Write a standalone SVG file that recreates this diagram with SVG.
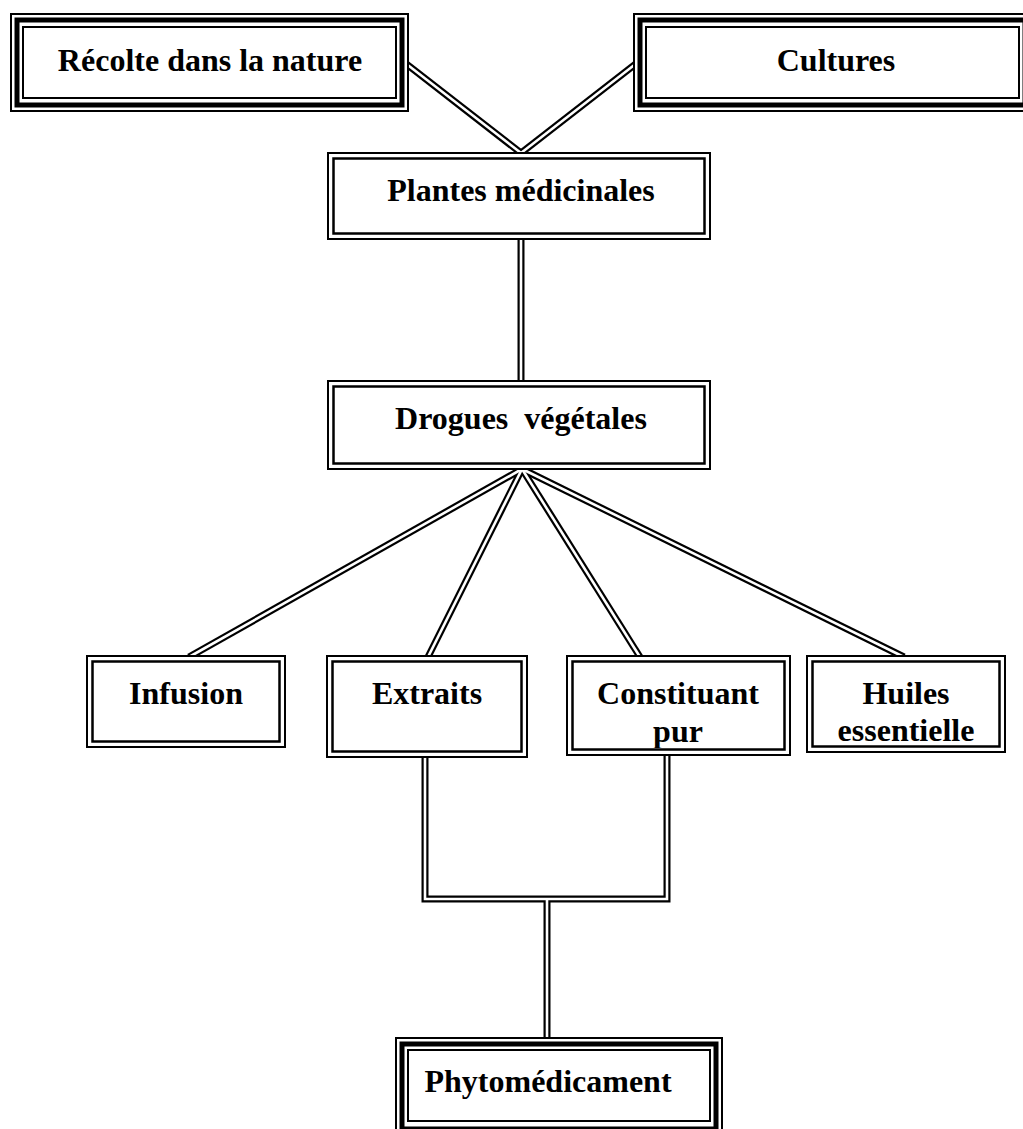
<svg xmlns="http://www.w3.org/2000/svg" xmlns:xlink="http://www.w3.org/1999/xlink" width="1023" height="1129" viewBox="0 0 1023 1129">
<style>
.o{fill:#fff;stroke:#000;stroke-width:2}
.t{fill:none;stroke:#000;stroke-width:5}
.i{fill:none;stroke:#000;stroke-width:2}
.d1{fill:#fff;stroke:#000;stroke-width:2}
.d2{fill:none;stroke:#000;stroke-width:2.5}
.cb{fill:none;stroke:#000;stroke-width:7}
.cw{fill:none;stroke:#fff;stroke-width:2.6}
text{font-family:"Liberation Serif","Times New Roman",serif;font-weight:bold;font-size:32px;text-anchor:middle;fill:#000}
</style>
<defs>
<path id="p1" d="M400,59 L521,153"/>
<path id="p2" d="M642,59 L521,153"/>
<path id="p3" d="M521,238 L521,382"/>
<path id="p4" d="M522,469 L189,657"/>
<path id="p5" d="M522,469 L428,657"/>
<path id="p6" d="M522,469 L640,657"/>
<path id="p7" d="M522,469 L904,657"/>
<path id="p8" d="M425,756 L425,899 L667,899 L667,756"/>
<path id="p9" d="M547,899 L547,1040"/>
<clipPath id="clipC"><rect x="573" y="660" width="212" height="88"/></clipPath>
</defs>
<g id="connectors">
<use xlink:href="#p1" class="cb"/><use xlink:href="#p2" class="cb"/><use xlink:href="#p3" class="cb"/>
<use xlink:href="#p4" class="cb"/><use xlink:href="#p5" class="cb"/><use xlink:href="#p6" class="cb"/>
<use xlink:href="#p7" class="cb"/><use xlink:href="#p8" class="cb"/><use xlink:href="#p9" class="cb"/>
<use xlink:href="#p1" class="cw"/><use xlink:href="#p2" class="cw"/><use xlink:href="#p3" class="cw"/>
<use xlink:href="#p4" class="cw"/><use xlink:href="#p5" class="cw"/><use xlink:href="#p6" class="cw"/>
<use xlink:href="#p7" class="cw"/><use xlink:href="#p8" class="cw"/><use xlink:href="#p9" class="cw"/>
</g>
<g id="recolte">
<rect class="o" x="11" y="14" width="397" height="97"/>
<rect class="t" x="17" y="20" width="385" height="85"/>
<rect class="i" x="23" y="27" width="373" height="71"/>
<text x="210" y="71">Récolte dans la nature</text>
</g>
<g id="cultures">
<rect class="o" x="634" y="14" width="397" height="97"/>
<rect class="t" x="640" y="20" width="385" height="85"/>
<rect class="i" x="646" y="27" width="373" height="71"/>
<text x="836" y="71">Cultures</text>
</g>
<g id="plantes">
<rect class="d1" x="328" y="153" width="382" height="86"/>
<rect class="d2" x="333.5" y="158.5" width="371" height="75"/>
<text x="521" y="201">Plantes médicinales</text>
</g>
<g id="drogues">
<rect class="d1" x="328" y="381" width="382" height="88"/>
<rect class="d2" x="333.5" y="386.5" width="371" height="77"/>
<text x="521" y="429" xml:space="preserve">Drogues  végétales</text>
</g>
<g id="infusion">
<rect class="d1" x="87" y="656" width="198" height="91"/>
<rect class="d2" x="92.5" y="661.5" width="187" height="80"/>
<text x="186" y="704">Infusion</text>
</g>
<g id="extraits">
<rect class="d1" x="327" y="656" width="200" height="101"/>
<rect class="d2" x="332.5" y="661.5" width="189" height="90"/>
<text x="427" y="704">Extraits</text>
</g>
<g id="constituant">
<rect class="d1" x="567" y="656" width="223" height="99"/>
<rect class="d2" x="572.5" y="661.5" width="212" height="88"/>
<text x="678" y="704">Constituant</text>
<text x="678" y="742" clip-path="url(#clipC)">pur</text>
</g>
<g id="huiles">
<rect class="d1" x="807" y="656" width="198" height="96"/>
<rect class="d2" x="812.5" y="661.5" width="187" height="85"/>
<text x="906" y="704">Huiles</text>
<text x="906" y="741">essentielle</text>
</g>
<g id="phyto">
<rect class="o" x="396" y="1038" width="326" height="97"/>
<rect class="t" x="402" y="1044" width="314" height="85"/>
<rect class="i" x="408" y="1050" width="302" height="71"/>
<text x="548" y="1092">Phytomédicament</text>
</g>
</svg>
